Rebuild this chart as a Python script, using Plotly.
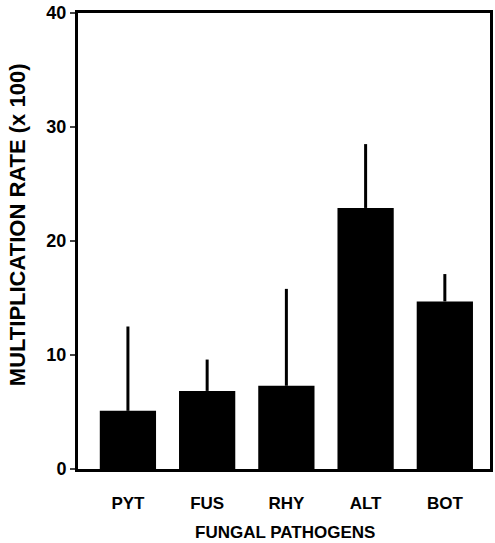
import plotly.graph_objects as go

categories = ["PYT", "FUS", "RHY", "ALT", "BOT"]
values = [5.1, 6.85, 7.3, 22.9, 14.7]
err_upper = [7.4, 2.75, 8.5, 5.6, 2.4]
y_ticks = [0, 10, 20, 30, 40]

FONT = "Liberation Sans, Arial, sans-serif"

fig = go.Figure()
fig.add_trace(go.Bar(
    x=categories, y=values,
    marker=dict(color="black", line=dict(width=0)),
    width=0.71,
    error_y=dict(type="data", symmetric=False, array=err_upper,
                 arrayminus=[0] * len(values), color="black",
                 thickness=3, width=0),
))

fig.update_layout(
    width=495, height=543,
    margin=dict(l=78, r=2, t=13, b=74),
    plot_bgcolor="white", paper_bgcolor="white",
    showlegend=False,
    font=dict(family=FONT, size=17, color="black", weight="bold"),
    xaxis=dict(range=[-0.63, 4.57], showline=True, linecolor="black",
               linewidth=3, mirror=True, ticks="", showgrid=False,
               ticklabelstandoff=17,
               tickfont=dict(family=FONT, size=17, weight="bold")),
    yaxis=dict(range=[0, 40], tickvals=y_ticks, showline=True,
               linecolor="black", linewidth=3, mirror=True,
               ticks="outside", ticklen=5, tickwidth=2, showgrid=False,
               zeroline=False,
               tickfont=dict(family=FONT, size=18, weight="bold")),
    annotations=[
        dict(text="FUNGAL PATHOGENS", xref="paper", yref="paper",
             x=0.503, y=-0.14, showarrow=False, xanchor="center",
             yanchor="middle",
             font=dict(family=FONT, size=17, weight="bold")),
        dict(text="MULTIPLICATION RATE (x 100)", xref="paper", yref="paper",
             x=-0.1466, y=0.536, showarrow=False, textangle=-90,
             xanchor="center", yanchor="middle",
             font=dict(family=FONT, size=22, weight="bold")),
    ],
)

fig.write_html(
    "out.html",
    config={"displayModeBar": False},
    post_script="document.body.style.margin='0';document.body.style.padding='0';",
)
